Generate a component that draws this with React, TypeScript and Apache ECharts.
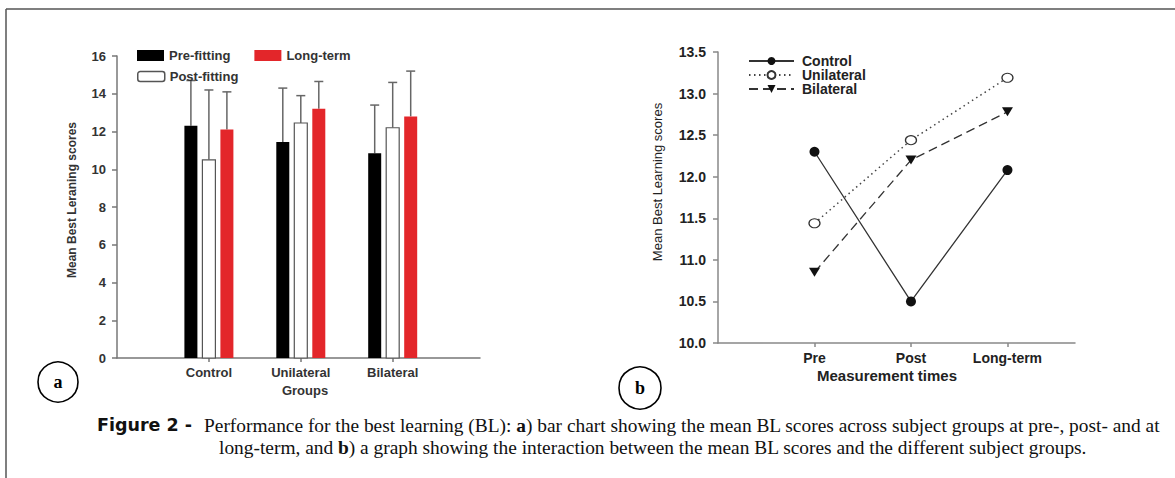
import React, { useEffect, useRef } from "react";
import * as echarts from "echarts";

// ---- Panel a: bar chart data ----
const groups = ["Control", "Unilateral", "Bilateral"];
const preFitting = [12.3, 11.45, 10.85];
const postFitting = [10.5, 12.45, 12.2];
const longTerm = [12.1, 13.2, 12.8];
const preSD = [2.4, 2.85, 2.55];
const postSD = [3.7, 1.45, 2.4];
const longSD = [2.0, 1.45, 2.4];

// ---- Panel b: line chart data ----
const times = ["Pre", "Post", "Long-term"];
const controlLine = [12.3, 10.5, 12.08];
const unilateralLine = [11.44, 12.44, 13.19];
const bilateralLine = [10.85, 12.2, 12.78];

const SANS = "'Liberation Sans', Arial, Helvetica, sans-serif";
const HEAVY = "'DejaVu Sans', 'Liberation Sans', sans-serif";
const SERIF = "'Liberation Serif', 'Times New Roman', serif";
const TRI_DOWN = "path://M0,0 L10,0 L5,8 Z";

function barSeries(
  name: string,
  means: number[],
  sds: number[],
  offset: number,
  fill: string,
  stroke: string | null
) {
  return {
    type: "custom",
    name,
    xAxisIndex: 0,
    yAxisIndex: 0,
    itemStyle: { color: fill },
    data: means.map((m, i) => [i + 1, m, m + sds[i]]),
    encode: { x: 0, y: [1, 2] },
    renderItem: (_params: any, api: any) => {
      const x = api.value(0);
      const y = api.value(1);
      const top = api.value(2);
      const base = api.coord([x, 0]);
      const p = api.coord([x, y]);
      const t = api.coord([x, top]);
      const cx = base[0] + offset;
      return {
        type: "group",
        children: [
          {
            type: "line",
            shape: { x1: cx, y1: p[1], x2: cx, y2: t[1] },
            style: { stroke: "#666", lineWidth: 1.5 },
          },
          {
            type: "line",
            shape: { x1: cx - 4.5, y1: t[1], x2: cx + 4.5, y2: t[1] },
            style: { stroke: "#666", lineWidth: 1.5 },
          },
          {
            type: "rect",
            shape: { x: cx - 6.5, y: p[1], width: 13, height: base[1] - p[1] },
            style: stroke ? { fill, stroke, lineWidth: 1.2 } : { fill },
          },
        ],
      };
    },
  };
}

export default function App() {
  const ref = useRef<HTMLDivElement>(null);

  useEffect(() => {
    document.body.style.margin = "0";
    if (!ref.current) return;
    const chart = echarts.init(ref.current, null, { renderer: "svg" });

    const option: any = {
      animation: false,
      backgroundColor: "#ffffff",
      grid: [
        { left: 117, top: 56, width: 363, height: 302 },
        { left: 718, top: 52, width: 357, height: 291 },
      ],
      xAxis: [
        {
          type: "value",
          gridIndex: 0,
          min: 0,
          max: 3.95,
          splitLine: { show: false },
          axisLine: { lineStyle: { color: "#777", width: 1.5 } },
          axisTick: { customValues: [1, 2, 3], length: 4, lineStyle: { color: "#777", width: 1.5 } },
          axisLabel: {
            customValues: [1, 2, 3],
            formatter: (v: number) => groups[Math.round(v) - 1] ?? "",
            margin: 8,
            color: "#333",
            fontFamily: SANS,
            fontWeight: "bold",
            fontSize: 13,
          },
        },
        {
          type: "value",
          gridIndex: 1,
          min: 0,
          max: 3.7,
          splitLine: { show: false },
          axisLine: { lineStyle: { color: "#888", width: 1.5 } },
          axisTick: { customValues: [1, 2, 3], length: 4, lineStyle: { color: "#888", width: 1.5 } },
          axisLabel: {
            customValues: [1, 2, 3],
            formatter: (v: number) => times[Math.round(v) - 1] ?? "",
            margin: 8,
            color: "#222",
            fontFamily: SANS,
            fontWeight: "bold",
            fontSize: 14,
          },
        },
      ],
      yAxis: [
        {
          type: "value",
          gridIndex: 0,
          min: 0,
          max: 16,
          interval: 2,
          splitLine: { show: false },
          axisLine: { show: true, lineStyle: { color: "#777", width: 1.5 } },
          axisTick: { show: true, length: 5, lineStyle: { color: "#777", width: 1.5 } },
          axisLabel: {
            margin: 11,
            color: "#333",
            fontFamily: SANS,
            fontWeight: "bold",
            fontSize: 13,
          },
        },
        {
          type: "value",
          gridIndex: 1,
          min: 10,
          max: 13.5,
          interval: 0.5,
          splitLine: { show: false },
          axisLine: { show: true, lineStyle: { color: "#888", width: 1.5 } },
          axisTick: { show: true, length: 5, lineStyle: { color: "#888", width: 1.5 } },
          axisLabel: {
            margin: 12,
            color: "#222",
            fontFamily: SANS,
            fontWeight: "bold",
            fontSize: 14,
            formatter: (v: number) => v.toFixed(1),
          },
        },
      ],
      legend: [
        {
          left: 132,
          top: 44,
          itemWidth: 27,
          itemHeight: 11,
          itemGap: 24,
          textStyle: { fontFamily: SANS, fontWeight: "bold", fontSize: 13, color: "#333" },
          data: [
            { name: "Pre-fitting", icon: "rect", itemStyle: { color: "#000" } },
            { name: "Long-term", icon: "rect", itemStyle: { color: "#e3262a" } },
          ],
        },
        {
          left: 132,
          top: 65,
          itemWidth: 27,
          itemHeight: 10,
          textStyle: { fontFamily: SANS, fontWeight: "bold", fontSize: 13, color: "#333" },
          data: [
            {
              name: "Post-fitting",
              icon: "roundRect",
              itemStyle: { color: "#fff", borderColor: "#555", borderWidth: 1.5 },
            },
          ],
        },
        {
          left: 743,
          top: 49,
          orient: "vertical",
          itemWidth: 45,
          itemHeight: 10,
          itemGap: 0,
          textStyle: {
            fontFamily: SANS,
            fontWeight: "bold",
            fontSize: 14,
            lineHeight: 13,
            color: "#222",
            padding: [0, 0, 0, 3],
          },
          data: ["Control", "Unilateral", "Bilateral"],
        },
      ],
      series: [
        barSeries("Pre-fitting", preFitting, preSD, -18, "#000", null),
        barSeries("Post-fitting", postFitting, postSD, 0, "#fff", "#555"),
        barSeries("Long-term", longTerm, longSD, 18, "#e3262a", null),
        {
          type: "line",
          name: "Control",
          xAxisIndex: 1,
          yAxisIndex: 1,
          data: controlLine.map((v, i) => [i + 1, v]),
          symbol: "circle",
          symbolSize: 10,
          lineStyle: { color: "#333", width: 1.3, type: "solid" },
          itemStyle: { color: "#111" },
        },
        {
          type: "line",
          name: "Unilateral",
          xAxisIndex: 1,
          yAxisIndex: 1,
          data: unilateralLine.map((v, i) => [i + 1, v]),
          symbol: "circle",
          symbolSize: [11, 9],
          lineStyle: { color: "#444", width: 1.5, type: [1.5, 3.5] },
          itemStyle: { color: "#fff", borderColor: "#333", borderWidth: 1.2 },
        },
        {
          type: "line",
          name: "Bilateral",
          xAxisIndex: 1,
          yAxisIndex: 1,
          data: bilateralLine.map((v, i) => [i + 1, v]),
          symbol: TRI_DOWN,
          symbolSize: [11, 9],
          lineStyle: { color: "#333", width: 1.3, type: [9, 5] },
          itemStyle: { color: "#111" },
        },
      ],
      graphic: [
        // frame
        { type: "line", shape: { x1: 6, y1: 9, x2: 1175, y2: 9 }, style: { stroke: "#555", lineWidth: 1.5 } },
        { type: "line", shape: { x1: 6, y1: 9, x2: 6, y2: 478 }, style: { stroke: "#555", lineWidth: 1.5 } },
        // axis names
        {
          type: "text",
          x: 72,
          y: 200,
          rotation: Math.PI / 2,
          style: {
            text: "Mean Best Leraning scores",
            fontFamily: SANS,
            fontWeight: "bold",
            fontSize: 12,
            fill: "#333",
            align: "center",
            verticalAlign: "middle",
          },
        },
        {
          type: "text",
          x: 305,
          y: 390,
          style: {
            text: "Groups",
            fontFamily: SANS,
            fontWeight: "bold",
            fontSize: 13,
            fill: "#333",
            align: "center",
            verticalAlign: "middle",
          },
        },
        {
          type: "text",
          x: 657,
          y: 182,
          rotation: Math.PI / 2,
          style: {
            text: "Mean Best Learning scores",
            fontFamily: SANS,
            fontSize: 13,
            fill: "#222",
            align: "center",
            verticalAlign: "middle",
          },
        },
        {
          type: "text",
          x: 887,
          y: 375,
          style: {
            text: "Measurement times",
            fontFamily: SANS,
            fontWeight: "bold",
            fontSize: 15,
            fill: "#222",
            align: "center",
            verticalAlign: "middle",
          },
        },
        // panel labels
        { type: "circle", shape: { cx: 58, cy: 382, r: 20 }, style: { fill: "none", stroke: "#000", lineWidth: 1.6 } },
        {
          type: "text",
          x: 58,
          y: 382,
          style: { text: "a", fontFamily: SERIF, fontWeight: "bold", fontSize: 18, fill: "#000", align: "center", verticalAlign: "middle" },
        },
        { type: "circle", shape: { cx: 640, cy: 388, r: 21 }, style: { fill: "none", stroke: "#000", lineWidth: 1.6 } },
        {
          type: "text",
          x: 640,
          y: 388,
          style: { text: "b", fontFamily: SERIF, fontWeight: "bold", fontSize: 18, fill: "#000", align: "center", verticalAlign: "middle" },
        },
        // caption
        {
          type: "text",
          x: 97,
          y: 425,
          style: {
            text: "Figure 2 -",
            fontFamily: HEAVY,
            fontWeight: "bold",
            fontSize: 17.5,
            fill: "#111",
            align: "left",
            verticalAlign: "middle",
          },
        },
        {
          type: "text",
          x: 204,
          y: 425,
          style: {
            text: "Performance for the best learning (BL): {b|a}) bar chart showing the mean BL scores across subject groups at pre-, post- and at",
            fontFamily: SERIF,
            fontSize: 19.4,
            fill: "#111",
            align: "left",
            verticalAlign: "middle",
            rich: { b: { fontFamily: SERIF, fontSize: 19.4, fontWeight: "bold", fill: "#111" } },
          },
        },
        {
          type: "text",
          x: 219,
          y: 447,
          style: {
            text: "long-term, and {b|b}) a graph showing the interaction between the mean BL scores and the different subject groups.",
            fontFamily: SERIF,
            fontSize: 19.4,
            fill: "#111",
            align: "left",
            verticalAlign: "middle",
            rich: { b: { fontFamily: SERIF, fontSize: 19.4, fontWeight: "bold", fill: "#111" } },
          },
        },
      ],
    };

    chart.setOption(option);
    return () => chart.dispose();
  }, []);

  return <div ref={ref} style={{ width: 1175, height: 478 }} />;
}
